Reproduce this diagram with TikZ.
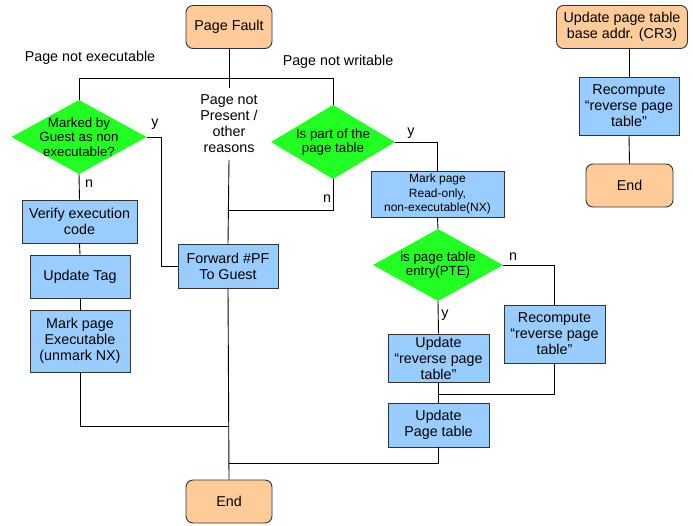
\documentclass[tikz,border=0pt]{standalone}
\usepackage{fontspec}
\setmainfont{Liberation Sans}
\definecolor{termfill}{HTML}{FFCC99}
\definecolor{procfill}{HTML}{99CCFF}
\definecolor{testfill}{HTML}{22FF22}
\definecolor{edgegray}{HTML}{333333}
\begin{document}
\begin{tikzpicture}[x=1pt,y=-1pt,
  every node/.style={font=\fontsize{14.3}{16}\selectfont, align=center, inner sep=0pt},
  term/.style={draw=edgegray, line width=0.9pt, fill=termfill, rounded corners=7pt},
  proc/.style={draw=edgegray, line width=0.9pt, fill=procfill},
  test/.style={rectangle, font=\fontsize{13.3}{14.5}\selectfont,
    path picture={\fill[testfill] (path picture bounding box.north)
      -- (path picture bounding box.east) -- (path picture bounding box.south)
      -- (path picture bounding box.west) -- cycle;}},
  link/.style={draw=black, line width=0.9pt}]
\useasboundingbox (0,0) rectangle (693,525);

% --- main flow ---
\node[term, minimum width=86pt, minimum height=43pt] (pf) at (229,27) {Page Fault};
\coordinate (bL) at (79,78);
\coordinate (bM) at (229,78);
\coordinate (bR) at (333,78);
\node (lexec) at (90,58) {Page not executable};
\node (lwrit) at (338,62) {Page not writable};

% left branch
\node[test, minimum width=135pt, minimum height=74pt] (d1) at (79,137)
  {Marked by\\Guest as non\\executable?};
\node[proc, minimum width=115pt, minimum height=43pt] (ver) at (79.5,221.5) {Verify execution\\code};
\node[proc, minimum width=100pt, minimum height=43pt] (utag) at (80,276.5) {Update Tag};
\node[proc, minimum width=100pt, minimum height=62pt] (mkx) at (80,341) {Mark page\\Executable\\(unmark NX)};
\node (d1y) at (155,124) {y};
\node (d1n) at (89,184) {n};

% middle branch
\node (mid) at (229,124) {Page not\\Present /\\other\\reasons};
\coordinate (mtop) at (229,88);
\coordinate (mbot) at (229,160);
\node[proc, minimum width=100pt, minimum height=44pt] (fwd) at (228,266) {Forward \#PF\\To Guest};
\coordinate (j1) at (229,210);
\coordinate (j2) at (229,426);
\coordinate (j4) at (229,463);
\node[term, minimum width=86pt, minimum height=43pt] (end) at (229,501.5) {End};

% right branch
\node[test, minimum width=124pt, minimum height=74pt] (d2) at (333,142)
  {Is part of the\\page table};
\node (d2y) at (411,133) {y};
\node (d2n) at (327,199) {n};
\node[proc, minimum width=133pt, minimum height=46pt, font=\fontsize{12}{14.5}\selectfont] (mro) at (437.5,194)
  {Mark page\\Read-only,\\non-executable(NX)};
\node[test, minimum width=130pt, minimum height=72pt] (d3) at (438,265)
  {is page table\\entry(PTE)};
\node (d3n) at (513,257) {n};
\node (d3y) at (445,315) {y};
\node[proc, minimum width=101pt, minimum height=58pt] (rec) at (554.5,334)
  {Recompute\\``reverse page\\table''};
\node[proc, minimum width=101pt, minimum height=48pt] (urv) at (438.5,358)
  {Update\\``reverse page\\table''};
\coordinate (j3) at (438,394);
\node[proc, minimum width=101pt, minimum height=44pt] (upt) at (438.5,425) {Update\\Page table};

% connectors of the main flow
\draw[link] (pf.south) -- (bM);
\draw[link] (d1.north) |- (bR) -- (d2.north);
\draw[link] (bM) -- (mtop);
\draw[link] (mbot) -- (fwd.north);
\draw[link] (d1.east) -- ++(15,0) |- (fwd.west);
\draw[link] (d1.south) -- (ver.north);
\draw[link] (ver.south) -- (utag.north);
\draw[link] (utag.south) -- (mkx.north);
\draw[link] (mkx.south) |- (j2);
\draw[link] (fwd.south) -- (end.north);
\draw[link] (d2.south) |- (j1);
\draw[link] (d2.east) -| (mro.north);
\draw[link] (mro.south) -- (d3.north);
\draw[link] (d3.east) -| (rec.north);
\draw[link] (d3.south) -- (urv.north);
\draw[link] (urv.south) -- (upt.north);
\draw[link] (rec.south) |- (j3);
\draw[link] (upt.south) |- (j4);

% --- CR3 update flow ---
\node[term, minimum width=131pt, minimum height=43pt] (cr3) at (622,27)
  {Update page table\\base addr. (CR3)};
\node[proc, minimum width=100pt, minimum height=58pt] (rec2) at (629,106)
  {Recompute\\``reverse page\\table''};
\node[term, minimum width=87pt, minimum height=43pt] (end2) at (629.5,185.5) {End};
\draw[link] (rec2.north |- cr3.south) -- (rec2.north);
\draw[link] (rec2.south) -- (end2.north);
\end{tikzpicture}
\end{document}
